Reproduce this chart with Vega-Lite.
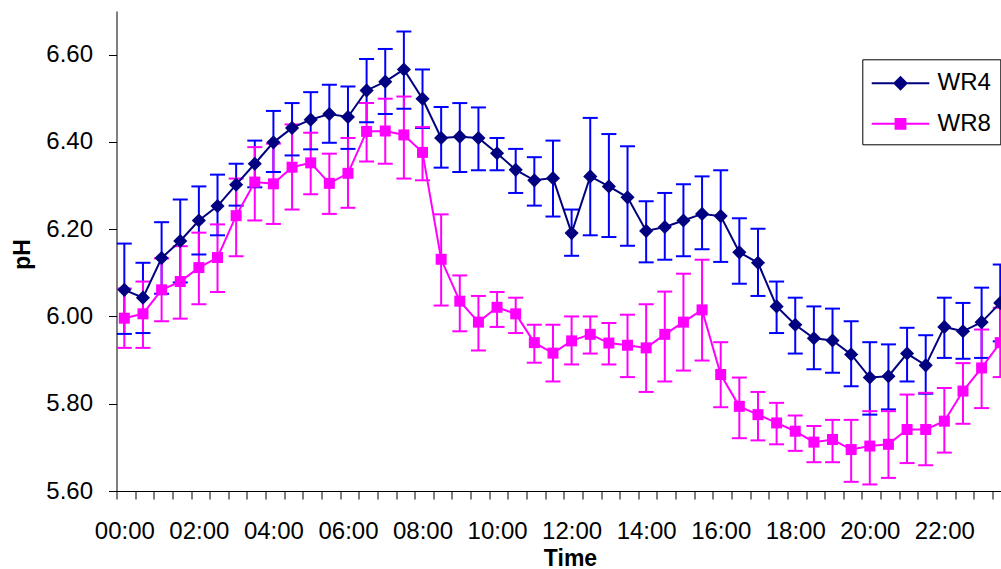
{
  "$schema": "https://vega.github.io/schema/vega-lite/v6.json",
  "width": 884.5,
  "height": 480,
  "autosize": {"type": "none"},
  "padding": {"left": 116.5, "top": 11, "right": 0, "bottom": 78},
  "background": "white",
  "config": {
    "view": {"stroke": null},
    "font": "Liberation Sans",
    "axis": {
      "tickSize": 8,
      "tickColor": "black",
      "tickWidth": 1,
      "domainColor": "black",
      "domainWidth": 1,
      "grid": false,
      "labelFont": "Liberation Sans",
      "labelFontSize": 24,
      "labelColor": "black",
      "labelFlush": false,
      "labelOverlap": false,
      "labelBound": false,
      "titleFont": "Liberation Sans",
      "titleFontSize": 23,
      "titleFontWeight": "bold",
      "titleColor": "black",
      "titleAlign": "center",
      "titleBaseline": "alphabetic"
    },
    "axisX": {"labelPadding": 20, "titleX": 453.5, "titleY": 74},
    "axisY": {"labelPadding": 16, "titleAngle": 270, "titleX": -87, "titleY": 243}
  },
  "data": {"values": [
    {"h":0,"s":"WR4","ph":6.061,"lo":5.960,"hi":6.167},
    {"h":0.5,"s":"WR4","ph":6.043,"lo":5.962,"hi":6.123},
    {"h":1,"s":"WR4","ph":6.134,"lo":6.052,"hi":6.216},
    {"h":1.5,"s":"WR4","ph":6.173,"lo":6.078,"hi":6.268},
    {"h":2,"s":"WR4","ph":6.220,"lo":6.142,"hi":6.298},
    {"h":2.5,"s":"WR4","ph":6.253,"lo":6.186,"hi":6.325},
    {"h":3,"s":"WR4","ph":6.302,"lo":6.254,"hi":6.350},
    {"h":3.5,"s":"WR4","ph":6.350,"lo":6.296,"hi":6.403},
    {"h":4,"s":"WR4","ph":6.399,"lo":6.331,"hi":6.471},
    {"h":4.5,"s":"WR4","ph":6.432,"lo":6.369,"hi":6.489},
    {"h":5,"s":"WR4","ph":6.451,"lo":6.383,"hi":6.514},
    {"h":5.5,"s":"WR4","ph":6.464,"lo":6.398,"hi":6.531},
    {"h":6,"s":"WR4","ph":6.457,"lo":6.384,"hi":6.527},
    {"h":6.5,"s":"WR4","ph":6.518,"lo":6.445,"hi":6.590},
    {"h":7,"s":"WR4","ph":6.538,"lo":6.464,"hi":6.613},
    {"h":7.5,"s":"WR4","ph":6.566,"lo":6.476,"hi":6.653},
    {"h":8,"s":"WR4","ph":6.499,"lo":6.432,"hi":6.566},
    {"h":8.5,"s":"WR4","ph":6.409,"lo":6.341,"hi":6.480},
    {"h":9,"s":"WR4","ph":6.412,"lo":6.331,"hi":6.489},
    {"h":9.5,"s":"WR4","ph":6.409,"lo":6.335,"hi":6.479},
    {"h":10,"s":"WR4","ph":6.374,"lo":6.335,"hi":6.409},
    {"h":10.5,"s":"WR4","ph":6.336,"lo":6.283,"hi":6.384},
    {"h":11,"s":"WR4","ph":6.312,"lo":6.254,"hi":6.365},
    {"h":11.5,"s":"WR4","ph":6.317,"lo":6.229,"hi":6.403},
    {"h":12,"s":"WR4","ph":6.191,"lo":6.139,"hi":6.245},
    {"h":12.5,"s":"WR4","ph":6.321,"lo":6.186,"hi":6.455},
    {"h":13,"s":"WR4","ph":6.298,"lo":6.182,"hi":6.418},
    {"h":13.5,"s":"WR4","ph":6.273,"lo":6.162,"hi":6.390},
    {"h":14,"s":"WR4","ph":6.196,"lo":6.124,"hi":6.264},
    {"h":14.5,"s":"WR4","ph":6.205,"lo":6.130,"hi":6.283},
    {"h":15,"s":"WR4","ph":6.220,"lo":6.138,"hi":6.303},
    {"h":15.5,"s":"WR4","ph":6.235,"lo":6.154,"hi":6.321},
    {"h":16,"s":"WR4","ph":6.230,"lo":6.125,"hi":6.335},
    {"h":16.5,"s":"WR4","ph":6.147,"lo":6.075,"hi":6.225},
    {"h":17,"s":"WR4","ph":6.123,"lo":6.047,"hi":6.201},
    {"h":17.5,"s":"WR4","ph":6.023,"lo":5.962,"hi":6.080},
    {"h":18,"s":"WR4","ph":5.981,"lo":5.915,"hi":6.043},
    {"h":18.5,"s":"WR4","ph":5.950,"lo":5.879,"hi":6.023},
    {"h":19,"s":"WR4","ph":5.945,"lo":5.871,"hi":6.018},
    {"h":19.5,"s":"WR4","ph":5.913,"lo":5.840,"hi":5.989},
    {"h":20,"s":"WR4","ph":5.860,"lo":5.775,"hi":5.941},
    {"h":20.5,"s":"WR4","ph":5.863,"lo":5.787,"hi":5.936},
    {"h":21,"s":"WR4","ph":5.915,"lo":5.851,"hi":5.974},
    {"h":21.5,"s":"WR4","ph":5.888,"lo":5.823,"hi":5.957},
    {"h":22,"s":"WR4","ph":5.976,"lo":5.905,"hi":6.043},
    {"h":22.5,"s":"WR4","ph":5.966,"lo":5.903,"hi":6.031},
    {"h":23,"s":"WR4","ph":5.987,"lo":5.905,"hi":6.066},
    {"h":23.5,"s":"WR4","ph":6.031,"lo":5.943,"hi":6.119},
    {"h":0,"s":"WR8","ph":5.996,"lo":5.928,"hi":6.064},
    {"h":0.5,"s":"WR8","ph":6.006,"lo":5.928,"hi":6.080},
    {"h":1,"s":"WR8","ph":6.061,"lo":5.989,"hi":6.133},
    {"h":1.5,"s":"WR8","ph":6.080,"lo":5.995,"hi":6.161},
    {"h":2,"s":"WR8","ph":6.112,"lo":6.028,"hi":6.192},
    {"h":2.5,"s":"WR8","ph":6.135,"lo":6.056,"hi":6.211},
    {"h":3,"s":"WR8","ph":6.231,"lo":6.138,"hi":6.316},
    {"h":3.5,"s":"WR8","ph":6.308,"lo":6.220,"hi":6.388},
    {"h":4,"s":"WR8","ph":6.304,"lo":6.212,"hi":6.396},
    {"h":4.5,"s":"WR8","ph":6.342,"lo":6.245,"hi":6.440},
    {"h":5,"s":"WR8","ph":6.352,"lo":6.280,"hi":6.421},
    {"h":5.5,"s":"WR8","ph":6.305,"lo":6.235,"hi":6.373},
    {"h":6,"s":"WR8","ph":6.328,"lo":6.249,"hi":6.409},
    {"h":6.5,"s":"WR8","ph":6.424,"lo":6.355,"hi":6.489},
    {"h":7,"s":"WR8","ph":6.425,"lo":6.350,"hi":6.499},
    {"h":7.5,"s":"WR8","ph":6.416,"lo":6.316,"hi":6.504},
    {"h":8,"s":"WR8","ph":6.376,"lo":6.312,"hi":6.434},
    {"h":8.5,"s":"WR8","ph":6.131,"lo":6.025,"hi":6.234},
    {"h":9,"s":"WR8","ph":6.035,"lo":5.966,"hi":6.094},
    {"h":9.5,"s":"WR8","ph":5.987,"lo":5.922,"hi":6.047},
    {"h":10,"s":"WR8","ph":6.021,"lo":5.976,"hi":6.056},
    {"h":10.5,"s":"WR8","ph":6.006,"lo":5.962,"hi":6.043},
    {"h":11,"s":"WR8","ph":5.940,"lo":5.894,"hi":5.981},
    {"h":11.5,"s":"WR8","ph":5.916,"lo":5.851,"hi":5.981},
    {"h":12,"s":"WR8","ph":5.944,"lo":5.890,"hi":6.000},
    {"h":12.5,"s":"WR8","ph":5.959,"lo":5.915,"hi":6.000},
    {"h":13,"s":"WR8","ph":5.939,"lo":5.890,"hi":5.985},
    {"h":13.5,"s":"WR8","ph":5.934,"lo":5.861,"hi":6.004},
    {"h":14,"s":"WR8","ph":5.928,"lo":5.827,"hi":6.028},
    {"h":14.5,"s":"WR8","ph":5.959,"lo":5.851,"hi":6.057},
    {"h":15,"s":"WR8","ph":5.987,"lo":5.876,"hi":6.098},
    {"h":15.5,"s":"WR8","ph":6.015,"lo":5.899,"hi":6.130},
    {"h":16,"s":"WR8","ph":5.867,"lo":5.792,"hi":5.941},
    {"h":16.5,"s":"WR8","ph":5.794,"lo":5.721,"hi":5.860},
    {"h":17,"s":"WR8","ph":5.775,"lo":5.716,"hi":5.827},
    {"h":17.5,"s":"WR8","ph":5.756,"lo":5.707,"hi":5.802},
    {"h":18,"s":"WR8","ph":5.737,"lo":5.692,"hi":5.773},
    {"h":18.5,"s":"WR8","ph":5.712,"lo":5.666,"hi":5.749},
    {"h":19,"s":"WR8","ph":5.718,"lo":5.666,"hi":5.763},
    {"h":19.5,"s":"WR8","ph":5.695,"lo":5.621,"hi":5.763},
    {"h":20,"s":"WR8","ph":5.703,"lo":5.615,"hi":5.783},
    {"h":20.5,"s":"WR8","ph":5.707,"lo":5.630,"hi":5.783},
    {"h":21,"s":"WR8","ph":5.741,"lo":5.664,"hi":5.821},
    {"h":21.5,"s":"WR8","ph":5.741,"lo":5.659,"hi":5.825},
    {"h":22,"s":"WR8","ph":5.760,"lo":5.688,"hi":5.836},
    {"h":22.5,"s":"WR8","ph":5.829,"lo":5.754,"hi":5.893},
    {"h":23,"s":"WR8","ph":5.882,"lo":5.790,"hi":5.970},
    {"h":23.5,"s":"WR8","ph":5.940,"lo":5.861,"hi":6.020}
  ]},
  "encoding": {
    "x": {
      "field": "h",
      "type": "quantitative",
      "scale": {"domain": [-0.21, 23.52], "nice": false, "zero": false},
      "axis": {
        "values": [-0.21,0.29,0.79,1.29,1.79,2.29,2.79,3.29,3.79,4.29,4.79,5.29,5.79,6.29,6.79,7.29,7.79,8.29,8.79,9.29,9.79,10.29,10.79,11.29,11.79,12.29,12.79,13.29,13.79,14.29,14.79,15.29,15.79,16.29,16.79,17.29,17.79,18.29,18.79,19.29,19.79,20.29,20.79,21.29,21.79,22.29,22.79,23.29,0,2,4,6,8,10,12,14,16,18,20,22],
        "labelExpr": "datum.value % 2 === 0 ? (datum.value < 10 ? '0' : '') + datum.value + ':00' : ''",
        "tickOpacity": {"condition": {"test": "datum.value % 2 === 0", "value": 0}, "value": 1},
        "title": "Time"
      }
    },
    "y": {"field": "ph", "type": "quantitative", "scale": {"domain": [5.6, 6.7], "nice": false, "zero": false}, "axis": {"title": "pH", "values": [5.6, 5.8, 6.0, 6.2, 6.4, 6.6], "format": ".2f"}}
  },
  "layer": [
    {
      "mark": {"type": "rule", "strokeWidth": 2},
      "encoding": {
        "y": {"field": "lo", "type": "quantitative", "scale": {"domain": [5.6, 6.7], "nice": false, "zero": false}, "axis": {"title": "pH", "values": [5.6, 5.8, 6.0, 6.2, 6.4, 6.6], "format": ".2f"}},
        "y2": {"field": "hi"},
        "color": {"condition": {"test": "datum.s === 'WR4'", "value": "#0000FF"}, "value": "#FF00FF"}
      }
    },
    {
      "mark": {"type": "tick", "orient": "horizontal", "size": 15, "thickness": 2, "opacity": 1},
      "encoding": {
        "y": {"field": "lo", "type": "quantitative", "scale": {"domain": [5.6, 6.7], "nice": false, "zero": false}, "axis": {"title": "pH", "values": [5.6, 5.8, 6.0, 6.2, 6.4, 6.6], "format": ".2f"}},
        "color": {"condition": {"test": "datum.s === 'WR4'", "value": "#0000FF"}, "value": "#FF00FF"}
      }
    },
    {
      "mark": {"type": "tick", "orient": "horizontal", "size": 15, "thickness": 2, "opacity": 1},
      "encoding": {
        "y": {"field": "hi", "type": "quantitative", "scale": {"domain": [5.6, 6.7], "nice": false, "zero": false}, "axis": {"title": "pH", "values": [5.6, 5.8, 6.0, 6.2, 6.4, 6.6], "format": ".2f"}},
        "color": {"condition": {"test": "datum.s === 'WR4'", "value": "#0000FF"}, "value": "#FF00FF"}
      }
    },
    {
      "mark": {"type": "line", "strokeWidth": 2},
      "encoding": {
        "detail": {"field": "s", "type": "nominal"},
        "color": {"condition": {"test": "datum.s === 'WR4'", "value": "#000080"}, "value": "#FF00FF"}
      }
    },
    {
      "mark": {"type": "point", "filled": true, "opacity": 1},
      "encoding": {
        "color": {"condition": {"test": "datum.s === 'WR4'", "value": "#000080"}, "value": "#FF00FF"},
        "shape": {"condition": {"test": "datum.s === 'WR4'", "value": "diamond"}, "value": "square"},
        "size": {"condition": {"test": "datum.s === 'WR4'", "value": 200}, "value": 121}
      }
    },
    {
      "transform": [{"filter": "false"}],
      "mark": {"type": "point", "filled": true, "opacity": 1, "strokeWidth": 2},
      "encoding": {
        "fill": {
          "field": "s",
          "type": "nominal",
          "scale": {"domain": ["WR4", "WR8"], "range": ["#000080", "#FF00FF"]},
          "legend": {
            "title": null,
            "orient": "none",
            "legendX": 745.8,
            "legendY": 48.3,
            "direction": "vertical",
            "strokeColor": "black",
            "fillColor": "white",
            "padding": 8.5,
            "rowPadding": 12.5,
            "labelFont": "Liberation Sans",
            "labelFontSize": 24,
            "labelColor": "black",
            "labelOffset": 21.5,
            "symbolOffset": 14.2,
            "symbolSize": 829,
            "symbolStrokeWidth": 2,
            "symbolOpacity": 1
          }
        },
        "stroke": {
          "field": "s",
          "type": "nominal",
          "scale": {"domain": ["WR4", "WR8"], "range": ["#000080", "#FF00FF"]}
        },
        "shape": {
          "field": "s",
          "type": "nominal",
          "scale": {"domain": ["WR4", "WR8"], "range": ["M-2,0H2M0,-0.42L0.42,0L0,0.42L-0.42,0Z", "M-2,0H2M-0.34,-0.34H0.34V0.34H-0.34Z"]}
        }
      }
    }
  ]
}
